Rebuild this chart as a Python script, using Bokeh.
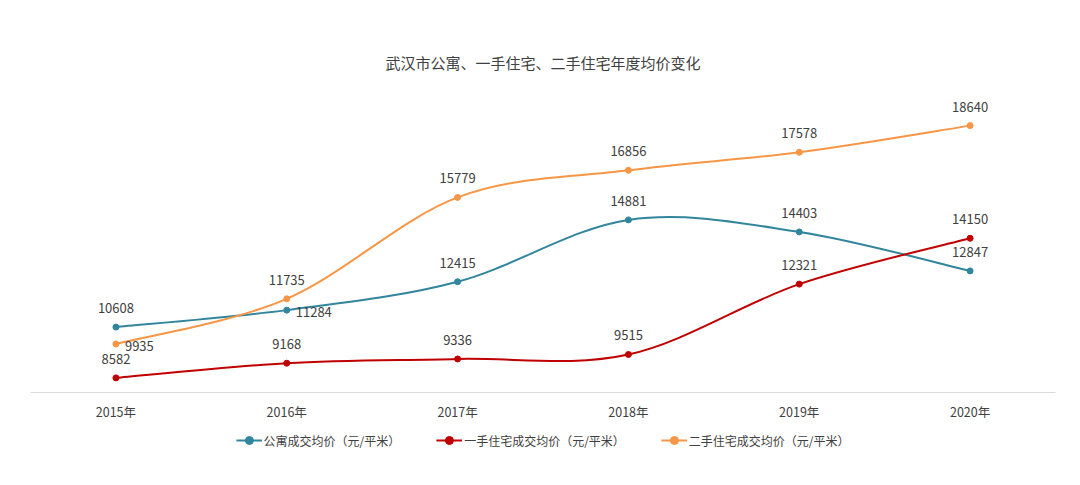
from bokeh.plotting import figure
from bokeh.layouts import column
from bokeh.models import Range1d, FixedTicker, Legend, LegendItem, ColumnDataSource
from bokeh.core.properties import value
from bokeh.embed import file_html
from bokeh.resources import INLINE

years = ["2015年", "2016年", "2017年", "2018年", "2019年", "2020年"]
apartment = [10608, 11284, 12415, 14881, 14403, 12847]
new_home = [8582, 9168, 9336, 9515, 12321, 14150]
second_home = [9935, 11735, 15779, 16856, 17578, 18640]

names = ["公寓成交均价（元/平米）", "一手住宅成交均价（元/平米）", "二手住宅成交均价（元/平米）"]
series = [apartment, new_home, second_home]
colors = ["#31859c", "#c00000", "#f79646"]
label_pos = [
    ["above", "right", "above", "above", "above", "above"],
    ["above", "above", "above", "above", "above", "above"],
    ["right", "above", "above", "above", "above", "above"],
]

FONT = "Noto Sans CJK SC"

p = figure(width=1064, height=425, output_backend="svg", toolbar_location=None,
           x_range=Range1d(-0.5, len(years) - 0.5), y_range=Range1d(8000, 20000),
           min_border_left=30, min_border_right=9, min_border_top=91, min_border_bottom=33,
           title="武汉市公寓、一手住宅、二手住宅年度均价变化")
p.title.align = "center"
p.title.text_font = FONT
p.title.text_font_size = "15px"
p.title.text_font_style = "normal"
p.title.text_color = "#404040"
p.title.standoff = 37
p.outline_line_color = None
p.xgrid.visible = False
p.ygrid.visible = False
p.yaxis.visible = False
p.xaxis.ticker = FixedTicker(ticks=list(range(len(years))))
p.xaxis.major_label_overrides = {i: y for i, y in enumerate(years)}
p.xaxis.major_tick_line_color = None
p.xaxis.minor_tick_line_color = None
p.xaxis.axis_line_color = "#d9d9d9"
p.xaxis.major_label_text_font = FONT
p.xaxis.major_label_text_font_size = "12.5px"
p.xaxis.major_label_text_color = "#404040"
p.xaxis.major_label_standoff = 3

xs = list(range(len(years)))


def catmull(vals):
    n = len(vals)
    x0, y0, x1, y1, cx0, cy0, cx1, cy1 = [], [], [], [], [], [], [], []
    for i in range(n - 1):
        pm = max(i - 1, 0)
        pp = min(i + 2, n - 1)
        x0.append(xs[i]); y0.append(vals[i])
        x1.append(xs[i + 1]); y1.append(vals[i + 1])
        cx0.append(xs[i] + (xs[i + 1] - xs[pm]) / 6)
        cy0.append(vals[i] + (vals[i + 1] - vals[pm]) / 6)
        cx1.append(xs[i + 1] - (xs[pp] - xs[i]) / 6)
        cy1.append(vals[i + 1] - (vals[pp] - vals[i]) / 6)
    return dict(x0=x0, y0=y0, x1=x1, y1=y1, cx0=cx0, cy0=cy0, cx1=cx1, cy1=cy1)


# legend strip below the chart (its renderers use the series data, kept out of its view range)
lg = figure(width=1064, height=30, output_backend="svg", toolbar_location=None,
            x_range=Range1d(0, 1), y_range=Range1d(0, 1),
            min_border_left=30, min_border_right=9, min_border_top=0, min_border_bottom=0)
lg.outline_line_color = None
lg.xaxis.visible = False
lg.yaxis.visible = False
lg.xgrid.visible = False
lg.ygrid.visible = False

items = []
for name, vals, col, pos in zip(names, series, colors, label_pos):
    src = ColumnDataSource(catmull(vals))
    p.bezier(x0="x0", y0="y0", x1="x1", y1="y1", cx0="cx0", cy0="cy0", cx1="cx1", cy1="cy1",
             source=src, line_color=col, line_width=2)
    p.scatter(xs, vals, size=6, fill_color=col, line_color=col)
    lr = lg.line(xs, vals, line_color=col, line_width=2)
    sr = lg.scatter(xs, vals, size=4, fill_color=col, line_color=col)
    items.append(LegendItem(label=name, renderers=[lr, sr]))
    for kind in ("above", "right"):
        idx = [i for i in range(len(vals)) if pos[i] == kind]
        if not idx:
            continue
        ls = ColumnDataSource(dict(x=[xs[i] for i in idx], y=[vals[i] for i in idx],
                                   t=[str(vals[i]) for i in idx]))
        if kind == "above":
            p.text("x", "y", text="t", source=ls, text_align="center", text_baseline="middle",
                   y_offset=-19, text_font=value(FONT), text_font_size="13px", text_color="#404040")
        else:
            p.text("x", "y", text="t", source=ls, text_align="left", text_baseline="middle",
                   x_offset=9, y_offset=2, text_font=value(FONT), text_font_size="13px", text_color="#404040")

legend = Legend(items=items, orientation="horizontal", location="center",
                label_text_font=FONT, label_text_font_size="12px", label_text_color="#404040",
                glyph_width=26, spacing=36, border_line_color=None, background_fill_alpha=0,
                padding=2, margin=0, label_standoff=2)
lg.add_layout(legend, "center")

open("out.html", "w").write(file_html(column(p, lg, spacing=0), INLINE))
